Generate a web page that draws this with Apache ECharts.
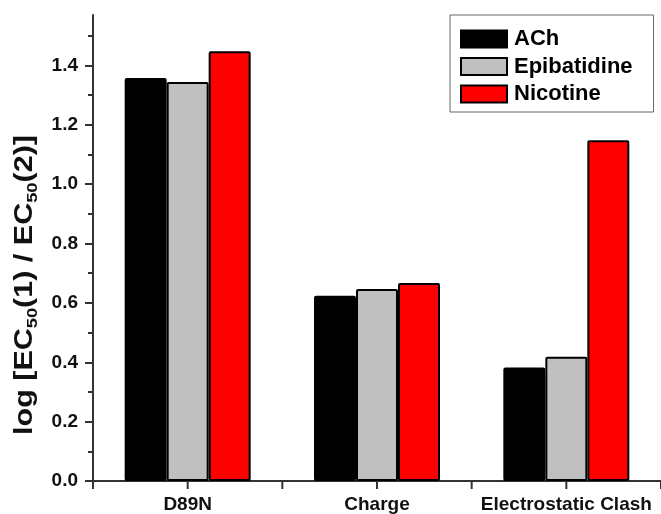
<!DOCTYPE html>
<html>
<head>
<meta charset="utf-8">
<script src="https://cdn.jsdelivr.net/npm/echarts@6/dist/echarts.min.js"></script>
<style>html,body{margin:0;padding:0;background:#fff}#c{width:661px;height:514px}</style>
</head>
<body>
<div id="c"></div>
<script>
const categories = ['D89N', 'Charge', 'Electrostatic Clash'];
const seriesNames = ['ACh', 'Epibatidine', 'Nicotine'];
const achValues = [1.358, 0.624, 0.382];
const epiValues = [1.344, 0.647, 0.419];
const nicValues = [1.448, 0.667, 1.148];
const yMajorTicks = [0, 0.2, 0.4, 0.6, 0.8, 1.0, 1.2, 1.4];
const yMinorTicks = [0.1, 0.3, 0.5, 0.7, 0.9, 1.1, 1.3, 1.5];

const FONT = '"Liberation Sans", Arial, sans-serif';
const colors = ['#000000', '#c0c0c0', '#ff0000'];
const values = [achValues, epiValues, nicValues];

const chart = echarts.init(document.getElementById('c'), null, {renderer: 'canvas'});

const barSeries = seriesNames.map((name, i) => ({
  name, type: 'bar', data: values[i],
  xAxisIndex: 0, yAxisIndex: 0,
  barWidth: 42, barGap: '0%', barCategoryGap: '34%',
  itemStyle: {color: colors[i], borderColor: '#000', borderWidth: 2, borderRadius: 1}
}));

// x-axis tick marks at category centres and boundaries, placed via the axis scale
const tickSeries = {
  type: 'custom', silent: true, clip: false, z: 5,
  xAxisIndex: 0, yAxisIndex: 0,
  data: categories.map(c => [c, 0]),
  encode: {x: 0, y: 1},
  renderItem: (params, api) => {
    const p = api.coord([api.value(0), 0]);
    const bw = api.size([1, 0])[0];
    const xs = [p[0], p[0] - bw / 2];
    if (params.dataIndex === categories.length - 1) xs.push(p[0] + bw / 2);
    return {
      type: 'group',
      children: xs.map(x => ({
        type: 'line',
        shape: {x1: x, y1: p[1], x2: x, y2: p[1] + 8},
        style: {stroke: '#333', lineWidth: 2}
      }))
    };
  }
};

chart.setOption({
  animation: false,
  backgroundColor: '#ffffff',
  grid: {left: 93, top: 15, width: 573, height: 467},
  legend: {
    orient: 'vertical',
    left: 450, top: 15,
    padding: [13, 21, 7, 10],
    itemGap: 5.5,
    itemWidth: 46, itemHeight: 17,
    borderColor: '#666', borderWidth: 1,
    backgroundColor: '#fff',
    icon: 'rect',
    textStyle: {fontFamily: FONT, fontWeight: 'bold', fontSize: 22, color: '#000', lineHeight: 19, padding: [0,0,0,2]},
    data: seriesNames
  },
  xAxis: [{
    type: 'category', data: categories, position: 'bottom',
    axisLine: {lineStyle: {color: '#333', width: 2}},
    axisTick: {show: false},
    axisLabel: {interval: 0, fontFamily: FONT, fontWeight: 'bold', fontSize: 19, color: '#111', margin: 14}
  }],
  yAxis: [{
    type: 'value', min: 0, max: 1.57, interval: 0.2,
    splitLine: {show: false},
    axisLine: {show: true, lineStyle: {color: '#333', width: 2}},
    axisTick: {show: true, length: 8, customValues: yMajorTicks, lineStyle: {color: '#333', width: 2}},
    axisLabel: {customValues: yMajorTicks, fontFamily: FONT, fontWeight: 'bold', fontSize: 19, color: '#111', margin: 15,
      formatter: v => v.toFixed(1)}
  }, {
    type: 'value', min: 0, max: 1.57, position: 'left', offset: 0,
    splitLine: {show: false},
    axisLine: {show: false},
    axisTick: {show: true, length: 5, customValues: yMinorTicks, lineStyle: {color: '#333', width: 2}},
    axisLabel: {show: false}
  }],
  graphic: [{
    type: 'text', x: 25, y: 285, rotation: Math.PI / 2, scaleX: 1.22,
    style: {
      text: '{n|log [EC}{s|50}{n|(1) / EC}{s|50}{n|(2)]}',
      align: 'center', verticalAlign: 'middle',
      rich: {
        n: {fontFamily: FONT, fontWeight: 'bold', fontSize: 25, fill: '#111', lineHeight: 30},
        s: {fontFamily: FONT, fontWeight: 'bold', fontSize: 15, fill: '#111', lineHeight: 30, verticalAlign: 'bottom'}
      }
    }
  }],
  series: barSeries.concat([tickSeries])
});
</script>
</body>
</html>
